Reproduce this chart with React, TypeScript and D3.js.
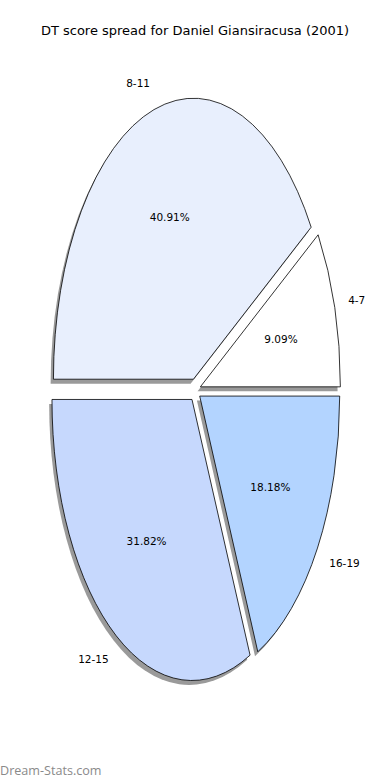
import { useEffect, useRef } from "react";
import * as d3 from "d3";

const categories: string[] = ["4-7", "8-11", "12-15", "16-19"];
const counts: number[] = [2, 9, 7, 4];
const sliceColors: string[] = ["#ffffff", "#e8effd", "#c6d8fd", "#b3d4ff"];
const titleText = "DT score spread for Daniel Giansiracusa (2001)";

const W = 390;
const H = 780;

export default function App() {
    const svgRef = useRef<SVGSVGElement | null>(null);

    useEffect(() => {
        const svg = d3.select(svgRef.current);
        svg.selectAll("*").remove();

        const cx = 195, cy = 390;
        const rx = 140, ry = 281;
        const explode = 0.04;
        const font = "DejaVu Sans, sans-serif";

        // matplotlib style: start at 3 o'clock, counterclockwise
        const pie = d3.pie<number>().sort(null)
            .startAngle(Math.PI / 2)
            .endAngle(Math.PI / 2 - 2 * Math.PI);
        const arcs = pie(counts);
        const total = d3.sum(counts);

        const arc = d3.arc<any>().innerRadius(0).outerRadius(1);

        // unit direction from d3 angle (0 = up, clockwise)
        const dir = (a: number) => [Math.sin(a), -Math.cos(a)];

        const g = svg.append("g");

        // shadows first
        arcs.forEach((d) => {
            const mid = (d.startAngle + d.endAngle) / 2;
            const [ux, uy] = dir(mid);
            const ox = cx + explode * rx * ux - 2.8;
            const oy = cy + explode * ry * uy + 4.5;
            g.append("path")
                .attr("d", arc(d) as string)
                .attr("transform", `translate(${ox},${oy}) scale(${rx},${ry})`)
                .attr("fill", "#9a9a9a");
        });

        arcs.forEach((d, i) => {
            const mid = (d.startAngle + d.endAngle) / 2;
            const [ux, uy] = dir(mid);
            const ox = cx + explode * rx * ux;
            const oy = cy + explode * ry * uy;
            g.append("path")
                .attr("d", arc(d) as string)
                .attr("transform", `translate(${ox},${oy}) scale(${rx},${ry})`)
                .attr("fill", sliceColors[i])
                .attr("stroke", "#000")
                .attr("stroke-width", 0.8)
                .attr("vector-effect", "non-scaling-stroke")
                .attr("stroke-linejoin", "miter");

            // category label
            const lx = ox + 1.1 * rx * ux;
            const ly = oy + 1.1 * ry * uy;
            g.append("text")
                .attr("x", lx)
                .attr("y", ly)
                .attr("text-anchor", ux < 0 ? "end" : "start")
                .attr("dominant-baseline", "central")
                .attr("font-family", font)
                .attr("font-size", 10.5)
                .attr("fill", "#000")
                .text(categories[i]);

            // percent label
            const px = ox + 0.6 * rx * ux;
            const py = oy + 0.6 * ry * uy;
            g.append("text")
                .attr("x", px)
                .attr("y", py)
                .attr("text-anchor", "middle")
                .attr("dominant-baseline", "central")
                .attr("font-family", font)
                .attr("font-size", 10.5)
                .attr("fill", "#000")
                .text(`${((counts[i] / total) * 100).toFixed(2)}%`);
        });

        svg.append("text")
            .attr("x", W / 2)
            .attr("y", 30)
            .attr("text-anchor", "middle")
            .attr("dominant-baseline", "central")
            .attr("font-family", font)
            .attr("font-size", 13)
            .attr("fill", "#000")
            .text(titleText);

        svg.append("text")
            .attr("x", 0)
            .attr("y", 775)
            .attr("font-family", "Open Sans, sans-serif")
            .attr("font-size", 12.6)
            .attr("fill", "#8a8a8a")
            .text("Dream-Stats.com");
    }, []);

    return (
        <div style={{ position: "absolute", left: 0, top: 0, width: W, height: H, background: "#fff" }}>
            <svg ref={svgRef} width={W} height={H}></svg>
        </div>
    );
}
